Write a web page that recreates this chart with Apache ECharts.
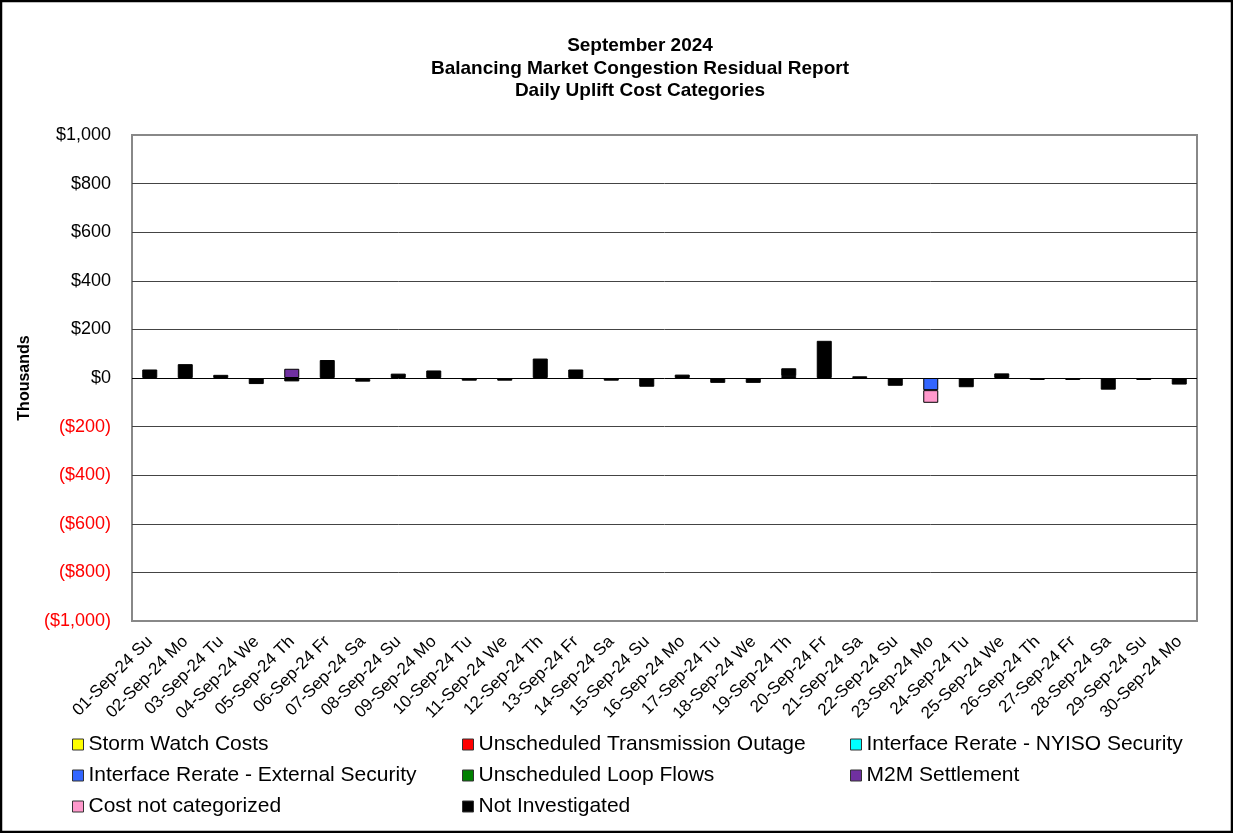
<!DOCTYPE html>
<html>
<head>
<meta charset="utf-8">
<title>Daily Uplift Cost Categories</title>
<script src="https://cdn.jsdelivr.net/npm/echarts@6/dist/echarts.min.js"></script>
<style>
  html, body { margin: 0; padding: 0; background: #fff; }
  #chart { width: 1233px; height: 833px; }
</style>
</head>
<body>
<div id="chart"></div>
<script>
// categories
var days = ['01-Sep-24 Su', '02-Sep-24 Mo', '03-Sep-24 Tu', '04-Sep-24 We', '05-Sep-24 Th', '06-Sep-24 Fr',
  '07-Sep-24 Sa', '08-Sep-24 Su', '09-Sep-24 Mo', '10-Sep-24 Tu', '11-Sep-24 We', '12-Sep-24 Th',
  '13-Sep-24 Fr', '14-Sep-24 Sa', '15-Sep-24 Su', '16-Sep-24 Mo', '17-Sep-24 Tu', '18-Sep-24 We',
  '19-Sep-24 Th', '20-Sep-24 Fr', '21-Sep-24 Sa', '22-Sep-24 Su', '23-Sep-24 Mo', '24-Sep-24 Tu',
  '25-Sep-24 We', '26-Sep-24 Th', '27-Sep-24 Fr', '28-Sep-24 Sa', '29-Sep-24 Su', '30-Sep-24 Mo']

// values in $ thousands (null = nothing that day)
var n = null
var stormWatch  = [n, n, n, n, n, n, n, n, n, n, n, n, n, n, n, n, n, n, n, n, n, n, n, n, n, n, n, n, n, n]
var transOutage = [n, n, n, n, n, n, n, n, n, n, n, n, n, n, n, n, n, n, n, n, n, n, n, n, n, n, n, n, n, n]
var nyisoSec    = [n, n, n, n, n, n, n, n, n, n, n, n, n, n, n, n, n, n, n, n, n, n, n, n, n, n, n, n, n, n]
var externalSec = [n, n, n, n, n, n, n, n, n, n, n, n, n, n, n, n, n, n, n, n, n, n, -50, n, n, n, n, n, n, n]
var loopFlows   = [n, n, n, n, n, n, n, n, n, n, n, n, n, n, n, n, n, n, n, n, n, n, n, n, n, n, n, n, n, n]
var m2m         = [n, n, n, n, 38, n, -4, n, n, n, n, n, n, n, n, n, n, n, 8, n, n, n, n, n, n, n, n, n, n, n]
var notCategorized = [n, n, n, n, n, n, n, n, n, n, n, n, n, n, n, n, n, n, n, n, n, n, -52, n, n, n, n, n, n, n]
var notInvestigated = [35, 57, 13, -25, -14, 74, -11, 18, 31, -11, -11, 80, 35, -11, -36, 14, -20, -20, 32, 153,
  7, -32, n, -38, 19, -8, -8, -48, -8, -27]

var yMin = -1000
var yMax = 1000
var yStep = 200

var chart = echarts.init(document.getElementById('chart'))

function makeSeries(name, data, color) {
  return {
    name: name,
    type: 'bar',
    stack: 'cost',
    barWidth: 15,
    data: data,
    itemStyle: {
      color: color,
      borderColor: '#000',
      borderWidth: 1
    }
  }
}

function money(v) {
  v = Number(v)
  var s = '$' + Math.abs(v).toLocaleString('en-US')
  return v < 0 ? '(' + s + ')' : s
}

var legendText = { fontFamily: 'Liberation Sans, Arial', fontSize: 21, color: '#000', lineHeight: 20 }
var legendBase = {
  orient: 'vertical',
  top: 729,
  itemGap: 10,
  itemWidth: 11,
  itemHeight: 11,
  icon: 'rect',
  selectedMode: false,
  textStyle: legendText,
  itemStyle: { borderColor: '#333', borderWidth: 1 }
}

chart.setOption({
  animation: false,
  textStyle: { fontFamily: 'Liberation Sans, Arial' },
  title: {
    text: 'September 2024\nBalancing Market Congestion Residual Report\nDaily Uplift Cost Categories',
    left: 635,
    top: 30,
    textAlign: 'center',
    textStyle: {
      fontSize: 19,
      fontWeight: 'bold',
      color: '#000',
      lineHeight: 22.5
    }
  },
  graphic: [{
    type: 'rect',
    shape: { x: 1, y: 1, width: 1231, height: 831 },
    style: { fill: 'none', stroke: '#000', lineWidth: 2.5 }
  }],
  legend: [
    Object.assign({}, legendBase, { left: 67, data: ['Storm Watch Costs', 'Interface Rerate - External Security', 'Cost not categorized'] }),
    Object.assign({}, legendBase, { left: 457, data: ['Unscheduled Transmission Outage', 'Unscheduled Loop Flows', 'Not Investigated'] }),
    Object.assign({}, legendBase, { left: 845, data: ['Interface Rerate - NYISO Security', 'M2M Settlement'] })
  ],
  grid: {
    left: 132,
    right: 36,
    top: 135,
    bottom: 212,
    show: true,
    borderColor: '#888',
    borderWidth: 2,
    backgroundColor: '#fff'
  },
  xAxis: {
    type: 'category',
    data: days,
    axisLine: { show: false },
    axisTick: { show: false },
    axisLabel: {
      rotate: 45,
      interval: 0,
      margin: 18,
      fontSize: 17,
      color: '#000'
    }
  },
  yAxis: {
    type: 'value',
    min: yMin,
    max: yMax,
    interval: yStep,
    name: 'Thousands',
    nameLocation: 'middle',
    nameRotate: 90,
    nameGap: 89,
    nameTextStyle: { fontSize: 16, fontWeight: 'bold', color: '#000' },
    axisLine: { show: false },
    axisTick: { show: false },
    axisLabel: {
      margin: 21,
      fontSize: 18,
      formatter: money,
      color: function (v) { return Number(v) < 0 ? '#ff0000' : '#000' }
    },
    splitLine: {
      lineStyle: {
        width: 1,
        color: ['#888', '#444', '#444', '#444', '#444', '#000', '#444', '#444', '#444', '#444', '#888']
      }
    }
  },
  series: [
    makeSeries('Storm Watch Costs', stormWatch, '#ffff00'),
    makeSeries('Unscheduled Transmission Outage', transOutage, '#ff0000'),
    makeSeries('Interface Rerate - NYISO Security', nyisoSec, '#00ffff'),
    makeSeries('Interface Rerate - External Security', externalSec, '#3366ff'),
    makeSeries('Unscheduled Loop Flows', loopFlows, '#008000'),
    makeSeries('M2M Settlement', m2m, '#7030a0'),
    makeSeries('Cost not categorized', notCategorized, '#ff99cc'),
    makeSeries('Not Investigated', notInvestigated, '#000000')
  ]
})
</script>
</body>
</html>
